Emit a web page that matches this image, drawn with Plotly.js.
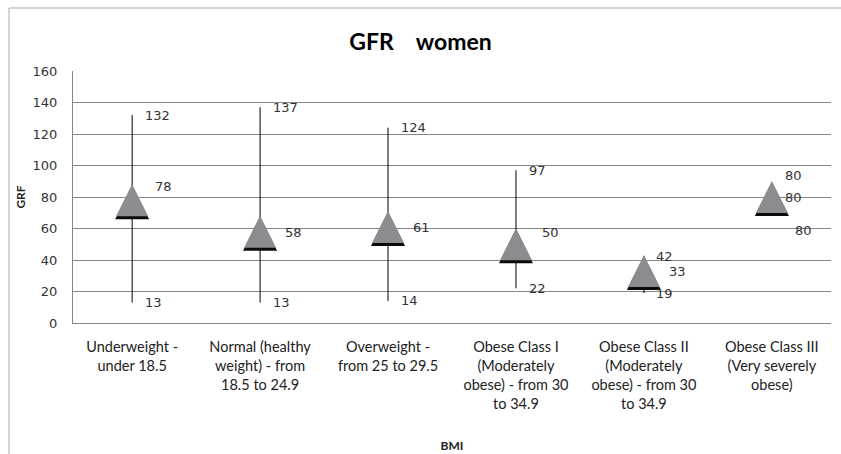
<!DOCTYPE html>
<html>
<head>
<meta charset="utf-8">
<script src="https://cdn.plot.ly/plotly-3.0.1.min.js"></script>
<style>html,body{margin:0;padding:0;background:#fff;}#chart{width:841px;height:454px;}</style>
</head>
<body>
<div id="chart"></div>
<script>
// ---- data ----
var categories = [
  'Underweight -<br>under 18.5',
  'Normal (healthy<br>weight) - from<br>18.5 to 24.9',
  'Overweight -<br>from 25 to 29.5',
  'Obese Class I<br>(Moderately<br>obese) - from 30<br>to 34.9',
  'Obese Class II<br>(Moderately<br>obese) - from 30<br>to 34.9',
  'Obese Class III<br>(Very severely<br>obese)'
];
var highValues  = [132, 137, 124, 97, 42, 80];
var lowValues   = [13, 13, 14, 22, 19, 80];
var closeValues = [78, 58, 61, 50, 33, 80];
var yTicks = [0, 20, 40, 60, 80, 100, 120, 140, 160];

// ---- label placement (style, pixels) ----
var highShift  = [[11,0],[11,0],[11,0],[11,0],[10,0],[11,-22]];
var closeShift = [[21,-14],[23,1],[23,1],[24,-12],[23,0],[11,0]];
var lowShift   = [[11,0],[11,0],[11,0],[11,0],[10,0],[21,33]];

var plotH = 252, yMax = 160;
function pxToVal(px){ return px * yMax / plotH; }

var hiErr = highValues.map(function(h,i){return h - closeValues[i];});
var loErr = lowValues.map(function(l,i){return closeValues[i] - l;});

var traces = [
  { // high-low lines
    x: categories, y: closeValues, type: 'scatter', mode: 'markers',
    marker: {size: 1, color: 'rgba(0,0,0,0)'},
    error_y: {type: 'data', symmetric: false, array: hiErr, arrayminus: loErr,
              width: 0, thickness: 1, color: '#000'},
    hoverinfo: 'skip', showlegend: false, yaxis: 'y'
  },
  { // shadow
    x: categories, y: closeValues, type: 'scatter', mode: 'markers',
    marker: {symbol: 'arrow-up', size: 34, color: '#0a0a0a', line: {width: 0}},
    hoverinfo: 'skip', showlegend: false, yaxis: 'y2'
  },
  { // triangles
    x: categories, y: closeValues, type: 'scatter', mode: 'markers',
    marker: {symbol: 'arrow-up', size: 32, color: '#8b8c90', line: {width: 0}},
    showlegend: false, yaxis: 'y3'
  }
];

var annotations = [];
function addLabels(vals, shifts){
  vals.forEach(function(v,i){
    annotations.push({x: categories[i], y: v, xref: 'x', yref: 'y', text: String(v),
      showarrow: false, xanchor: 'left', yanchor: 'middle',
      xshift: shifts[i][0], yshift: -shifts[i][1],
      font: {family: 'DejaVu Sans, Verdana, sans-serif', size: 13, color: '#333'}});
  });
}
addLabels(highValues, highShift);
addLabels(closeValues, closeShift);
addLabels(lowValues, lowShift);

var dShadow = pxToVal(15), dTri = pxToVal(16);

var layout = {
  width: 841, height: 454,
  margin: {l: 73, r: 10, t: 71, b: 131},
  paper_bgcolor: '#fff', plot_bgcolor: '#fff',
  title: {text: '<b>GFR\u00a0\u00a0\u00a0\u00a0women</b>', x: 0.5, xref: 'container', xanchor: 'center',
          y: 1 - 42/454, yref: 'container', yanchor: 'middle',
          font: {family: 'Lato, sans-serif', size: 23, color: '#000'}},
  xaxis: {type: 'category', tickvals: categories, ticktext: categories,
          showgrid: false, showline: true, linecolor: '#868686', linewidth: 1,
          ticks: '', ticklabelstandoff: 11,
          tickfont: {family: 'Lato, sans-serif', size: 14.5, color: '#222'},
          title: {text: '<b>BMI</b>', standoff: 30, font: {family: 'Lato, sans-serif', size: 12, color: '#222'}},
          fixedrange: true},
  yaxis: {range: [0, yMax], tickvals: yTicks, showgrid: true, gridcolor: '#868686', gridwidth: 1,
          zeroline: false, showline: true, linecolor: '#868686', linewidth: 1,
          ticks: '', ticklabelstandoff: 12,
          tickfont: {family: 'DejaVu Sans, Verdana, sans-serif', size: 13, color: '#333'},
          title: {text: '<b>GRF</b>', standoff: 4, font: {family: 'Lato, sans-serif', size: 12, color: '#222'}},
          fixedrange: true},
  yaxis2: {overlaying: 'y', range: [-dShadow, yMax - dShadow], visible: false, fixedrange: true},
  yaxis3: {overlaying: 'y', range: [-dTri, yMax - dTri], visible: false, fixedrange: true},
  shapes: [{type: 'rect', xref: 'paper', yref: 'paper',
            x0: (9-73)/758, x1: (860-73)/758, y0: (323-470)/252, y1: 1 + (71-8)/252,
            line: {color: '#a9a9a9', width: 1}, fillcolor: 'rgba(0,0,0,0)', layer: 'below'}],
  annotations: annotations,
  showlegend: false
};

Plotly.newPlot('chart', traces, layout, {displayModeBar: false, staticPlot: true});
</script>
</body>
</html>
